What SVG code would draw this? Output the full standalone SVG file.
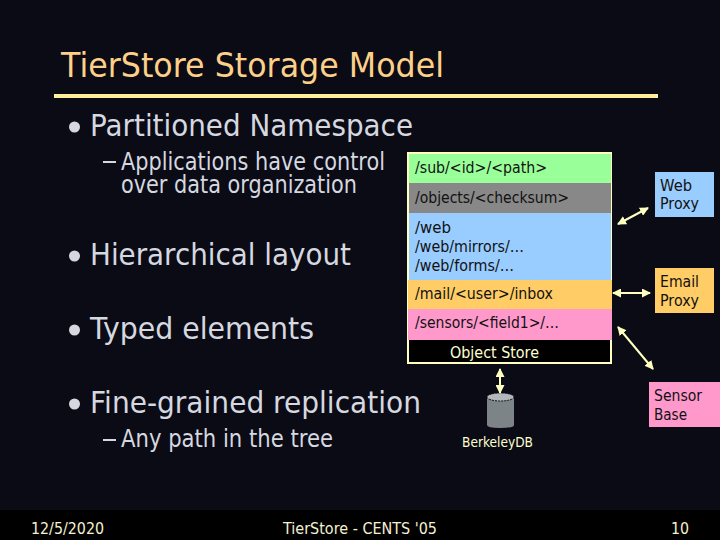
<svg xmlns="http://www.w3.org/2000/svg" width="720" height="540" viewBox="0 0 720 540">
<defs>
<marker id="a" viewBox="0 0 9 9" refX="8" refY="4.500" markerWidth="9" markerHeight="9" markerUnits="userSpaceOnUse" orient="auto-start-reverse"><path d="M0 0L9 4.500L0 9Z" fill="#ffffc0"/></marker>
</defs>
<style>
text{font-family:"DejaVu Sans","Liberation Sans",sans-serif}
.b{fill:#d6d8e0;font-size:30px}
.s{fill:#d6d8e0;font-size:24px}
.p{fill:#111;font-size:16px}
.f{fill:#f5f0d0;font-size:16px}
.w{fill:#ffffd0;font-size:16px}
.c{stroke:#ffffc0;stroke-width:2;fill:none;marker-start:url(#a);marker-end:url(#a)}
</style>
<rect width="720" height="540" fill="#0a0b14"/>
<rect y="510" width="720" height="30" fill="#000"/>
<g id="title">
<text x="61" y="77" font-size="34" fill="#fdd08a" textLength="383" lengthAdjust="spacingAndGlyphs">TierStore Storage Model</text>
<rect x="54" y="94" width="604" height="4" fill="#ffef9a"/>
</g>
<g id="bullets">
<circle cx="74.500" cy="127" r="5.500" fill="#d6d8e0"/>
<text class="b" x="90" y="136" textLength="323" lengthAdjust="spacingAndGlyphs">Partitioned Namespace</text>
<rect x="103" y="161" width="13" height="2" fill="#d6d8e0"/>
<text class="s" x="121" y="170" textLength="264" lengthAdjust="spacingAndGlyphs">Applications have control</text>
<text class="s" x="121" y="193" textLength="236" lengthAdjust="spacingAndGlyphs">over data organization</text>
<circle cx="74.500" cy="256" r="5.500" fill="#d6d8e0"/>
<text class="b" x="90" y="265" textLength="261" lengthAdjust="spacingAndGlyphs">Hierarchical layout</text>
<circle cx="74.500" cy="330" r="5.500" fill="#d6d8e0"/>
<text class="b" x="90" y="339" textLength="224" lengthAdjust="spacingAndGlyphs">Typed elements</text>
<circle cx="74.500" cy="404" r="5.500" fill="#d6d8e0"/>
<text class="b" x="90" y="413" textLength="331" lengthAdjust="spacingAndGlyphs">Fine-grained replication</text>
<rect x="103" y="439" width="13" height="2" fill="#d6d8e0"/>
<text class="s" x="121" y="447" textLength="212" lengthAdjust="spacingAndGlyphs">Any path in the tree</text>
</g>
<g id="object-store">
<rect x="408" y="153" width="203" height="210" fill="#000" stroke="#ffffc0" stroke-width="2"/>
<rect x="409" y="154" width="202" height="29" fill="#99ff99"/>
<rect x="409" y="183" width="202" height="30" fill="#888888"/>
<rect x="409" y="213" width="202" height="67" fill="#99ccff"/>
<rect x="408" y="280" width="204" height="29" fill="#ffcc66"/>
<rect x="408" y="309" width="204" height="31" fill="#ff99cc"/>
<text class="p" x="415" y="173" textLength="132" lengthAdjust="spacingAndGlyphs">/sub/&lt;id&gt;/&lt;path&gt;</text>
<text class="p" x="415" y="203" textLength="154" lengthAdjust="spacingAndGlyphs">/objects/&lt;checksum&gt;</text>
<text class="p" x="415" y="233" textLength="36" lengthAdjust="spacingAndGlyphs">/web</text>
<text class="p" x="415" y="252" textLength="109" lengthAdjust="spacingAndGlyphs">/web/mirrors/…</text>
<text class="p" x="415" y="271" textLength="99" lengthAdjust="spacingAndGlyphs">/web/forms/…</text>
<text class="p" x="415" y="299" textLength="138" lengthAdjust="spacingAndGlyphs">/mail/&lt;user&gt;/inbox</text>
<text class="p" x="415" y="328" textLength="144" lengthAdjust="spacingAndGlyphs">/sensors/&lt;field1&gt;/…</text>
<text class="w" x="450" y="358" textLength="89" lengthAdjust="spacingAndGlyphs">Object Store</text>
</g>
<g id="web-proxy">
<rect x="655" y="172" width="59" height="45" fill="#99ccff"/>
<text class="p" x="660" y="191" textLength="32" lengthAdjust="spacingAndGlyphs">Web</text>
<text class="p" x="660" y="209" textLength="39" lengthAdjust="spacingAndGlyphs">Proxy</text>
</g>
<g id="email-proxy">
<rect x="655" y="268" width="59" height="45" fill="#ffcc66"/>
<text class="p" x="660" y="287" textLength="39" lengthAdjust="spacingAndGlyphs">Email</text>
<text class="p" x="660" y="306" textLength="39" lengthAdjust="spacingAndGlyphs">Proxy</text>
</g>
<g id="sensor-base">
<rect x="649" y="382" width="71" height="45" fill="#ff99cc"/>
<text class="p" x="654" y="401" textLength="48" lengthAdjust="spacingAndGlyphs">Sensor</text>
<text class="p" x="654" y="420" textLength="33" lengthAdjust="spacingAndGlyphs">Base</text>
</g>
<g id="berkeleydb">
<path d="M487 397V425Q487 428 500 428Q514 428 514 425V397Z" fill="#7c8488"/>
<ellipse cx="500.500" cy="397" rx="13.500" ry="4" fill="#b4b8bc" stroke="#111" stroke-dasharray="2 1"/>
<text x="462" y="447" font-size="14" fill="#ffffd0" textLength="71" lengthAdjust="spacingAndGlyphs">BerkeleyDB</text>
</g>
<g id="connectors">
<line class="c" x1="618" y1="224" x2="648" y2="208"/>
<line class="c" x1="613" y1="293" x2="650" y2="293"/>
<line class="c" x1="618" y1="327" x2="653" y2="369"/>
<line class="c" x1="500" y1="369" x2="500" y2="393"/>
</g>
<g id="footer">
<text class="f" x="31" y="534" textLength="73" lengthAdjust="spacingAndGlyphs">12/5/2020</text>
<text class="f" x="283" y="534" textLength="154" lengthAdjust="spacingAndGlyphs">TierStore - CENTS '05</text>
<text class="f" x="671" y="534" textLength="18" lengthAdjust="spacingAndGlyphs">10</text>
</g>
</svg>
